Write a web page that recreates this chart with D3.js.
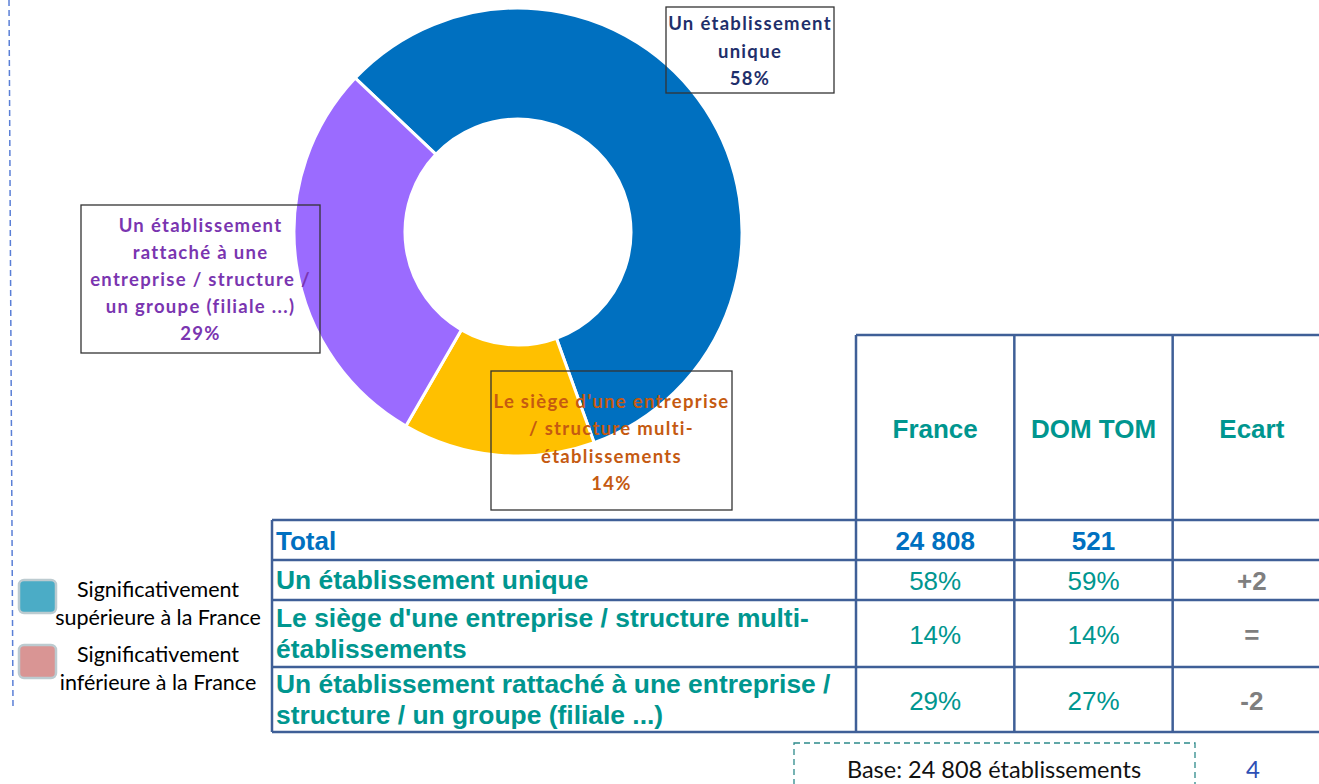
<!DOCTYPE html>
<html>
<head>
<meta charset="utf-8">
<script src="https://cdn.jsdelivr.net/npm/d3@7/dist/d3.min.js"></script>
<style>
  body { margin: 0; background: #fff; }
  svg { display: block; }
</style>
</head>
<body>
<div id="chart"></div>
<script>
// donut data
var sliceNames = ["Un établissement unique", "Le siège d'une entreprise / structure multi-établissements", "Un établissement rattaché à une entreprise / structure / un groupe (filiale ...)"];
var sliceValues = [58, 14, 29];
var sliceColors = ["#0070C0", "#FFC000", "#9B6BFF"];
var sliceLabelColors = ["#1F2F6B", "#C55A11", "#7A35B0"];
var sliceLabelLines = [
    ["Un établissement", "unique", "58%"],
    ["Le siège d'une entreprise", "/ structure multi-", "établissements", "14%"],
    ["Un établissement", "rattaché à une", "entreprise / structure /", "un groupe (filiale ...)", "29%"]
];

// table data
var columns = ["France", "DOM TOM", "Ecart"];
var totalLabel = "Total";
var totals = ["24 808", "521", ""];
var rowLabels = [
    ["Un établissement unique"],
    ["Le siège d'une entreprise / structure multi-", "établissements"],
    ["Un établissement rattaché à une entreprise /", "structure / un groupe (filiale ...)"]
];
var franceValues = [58, 14, 29];
var domTomValues = [59, 14, 27];
var ecartValues = ["+2", "=", "-2"];

var legendLabels = [["Significativement", "supérieure à la France"], ["Significativement", "inférieure à la France"]];
var legendColors = ["#4BACC6", "#D99594"];
var baseText = "Base: 24 808 établissements";
var pageNumber = "4";

var W = 1319, H = 784;
var svg = d3.select("#chart").append("svg").attr("width", W).attr("height", H);

// dashed margin line
svg.append("line")
    .attr("x1", 9).attr("y1", 0).attr("x2", 13).attr("y2", 707)
    .style("stroke", "#5A7FD6").style("stroke-width", 1.5).style("stroke-dasharray", "6,4");

// donut
var cx = 518, cy = 232;
var startA = -46.6 * Math.PI / 180;
var pie = d3.pie().sort(null).startAngle(startA).endAngle(startA + 2 * Math.PI);
var arc = d3.arc().innerRadius(113).outerRadius(224);
var gPie = svg.append("g").attr("transform", "translate(" + cx + "," + cy + ")");
gPie.selectAll("path")
    .data(pie(sliceValues))
    .enter()
    .append("path")
    .attr("d", arc)
    .style("fill", function (d, i) { return sliceColors[i]; })
    .style("stroke", "#fff")
    .style("stroke-width", 3);

// donut label boxes (order matches slices)
var labelBoxes = [
    { x: 666, y: 7, w: 168, h: 86, y0: 30, step: 27.5 },
    { x: 491, y: 371, w: 241, h: 139, y0: 408, step: 27.3 },
    { x: 81, y: 205, w: 239, h: 148, y0: 232, step: 27 }
];
labelBoxes.forEach(function (b, i) {
    var g = svg.append("g");
    g.append("rect")
        .attr("x", b.x).attr("y", b.y).attr("width", b.w).attr("height", b.h)
        .style("fill", "none").style("stroke", "#333").style("stroke-width", 1.3);
    g.selectAll("text")
        .data(sliceLabelLines[i])
        .enter()
        .append("text")
        .attr("x", b.x + b.w / 2)
        .attr("y", function (d, j) { return b.y0 + j * b.step; })
        .attr("text-anchor", "middle")
        .style("font-family", "Lato, 'Open Sans', sans-serif")
        .style("font-weight", "bold")
        .style("font-size", "18.5px")
        .style("letter-spacing", "1.3px")
        .style("fill", sliceLabelColors[i])
        .text(function (d) { return d; });
});

// table
var lineColor = "#3F5F97";
var tableFont = "'Liberation Sans', Arial, sans-serif";
var colX = d3.scaleBand().domain(columns).range([856, 1331]);
var tableLeft = 272, tableRight = 1331;
var headerTop = 335;
var rowEdges = [520, 560, 600, 667, 732];
var gT = svg.append("g");

// header column text
gT.selectAll("text.head")
    .data(columns)
    .enter()
    .append("text")
    .attr("class", "head")
    .attr("x", function (d) { return colX(d) + colX.bandwidth() / 2; })
    .attr("y", 438)
    .attr("text-anchor", "middle")
    .style("font-family", tableFont).style("font-weight", "bold").style("font-size", "26px")
    .style("fill", "#00968F")
    .text(function (d) { return d; });

// Total row
gT.append("text")
    .attr("x", 276).attr("y", 550)
    .style("font-family", tableFont).style("font-weight", "bold").style("font-size", "26px")
    .style("fill", "#0070C0").text(totalLabel);
gT.selectAll("text.total")
    .data(totals)
    .enter()
    .append("text")
    .attr("class", "total")
    .attr("x", function (d, i) { return colX(columns[i]) + colX.bandwidth() / 2; })
    .attr("y", 550)
    .attr("text-anchor", "middle")
    .style("font-family", tableFont).style("font-weight", "bold").style("font-size", "26px")
    .style("fill", "#0070C0")
    .text(function (d) { return d; });

// data rows
rowLabels.forEach(function (lines, r) {
    var top = rowEdges[r + 1], bottom = rowEdges[r + 2];
    var mid = (top + bottom) / 2;
    var lh = 31.5;
    var first = mid - (lines.length - 1) * lh / 2 + 9;
    lines.forEach(function (t, j) {
        gT.append("text")
            .attr("x", 276).attr("y", first + j * lh)
            .style("font-family", tableFont).style("font-weight", "bold").style("font-size", "26.4px")
            .style("fill", "#00968F").text(t);
    });
    var vals = [franceValues[r] + "%", domTomValues[r] + "%"];
    vals.forEach(function (v, c) {
        gT.append("text")
            .attr("x", colX(columns[c]) + colX.bandwidth() / 2).attr("y", mid + 10)
            .attr("text-anchor", "middle")
            .style("font-family", tableFont).style("font-size", "26px")
            .style("fill", "#00968F").text(v);
    });
    gT.append("text")
        .attr("x", colX(columns[2]) + colX.bandwidth() / 2).attr("y", mid + 10)
        .attr("text-anchor", "middle")
        .style("font-family", tableFont).style("font-weight", "bold").style("font-size", "26px")
        .style("fill", "#7F7F7F").text(ecartValues[r]);
});

// table grid
var grid = gT.append("g").style("stroke", lineColor).style("stroke-width", 2.5);
grid.append("line").attr("x1", 856).attr("x2", tableRight).attr("y1", headerTop).attr("y2", headerTop);
rowEdges.forEach(function (y) {
    grid.append("line").attr("x1", tableLeft).attr("x2", tableRight).attr("y1", y).attr("y2", y);
});
grid.append("line").attr("x1", tableLeft).attr("x2", tableLeft).attr("y1", rowEdges[0]).attr("y2", rowEdges[rowEdges.length - 1]);
columns.forEach(function (c) {
    grid.append("line").attr("x1", colX(c)).attr("x2", colX(c)).attr("y1", headerTop).attr("y2", rowEdges[rowEdges.length - 1]);
});

// legend
var gL = svg.append("g");
legendLabels.forEach(function (lines, i) {
    var y = 580 + i * 65;
    gL.append("rect")
        .attr("x", 19).attr("y", y).attr("width", 37).attr("height", 33)
        .attr("rx", 5)
        .style("fill", legendColors[i]).style("stroke", "#BCCBD0").style("stroke-width", 2.5);
    lines.forEach(function (t, j) {
        gL.append("text")
            .attr("x", 158).attr("y", y + 17 + j * 28)
            .attr("text-anchor", "middle")
            .style("font-family", "Lato, 'Open Sans', sans-serif")
            .style("font-size", "21.5px").style("fill", "#000")
            .text(t);
    });
});

// base box + page number
svg.append("rect")
    .attr("x", 794).attr("y", 743).attr("width", 401).attr("height", 60)
    .style("fill", "none").style("stroke", "#2D8A8A").style("stroke-width", 1.3).style("stroke-dasharray", "6,4");
svg.append("text")
    .attr("x", 994).attr("y", 778).attr("text-anchor", "middle")
    .style("font-family", "Lato, 'Open Sans', sans-serif").style("font-size", "23.5px").style("fill", "#111")
    .text(baseText);
svg.append("text")
    .attr("x", 1253).attr("y", 778).attr("text-anchor", "middle")
    .style("font-family", "Lato, 'Open Sans', sans-serif").style("font-size", "24px").style("fill", "#2E4FB5")
    .text(pageNumber);
</script>
</body>
</html>
